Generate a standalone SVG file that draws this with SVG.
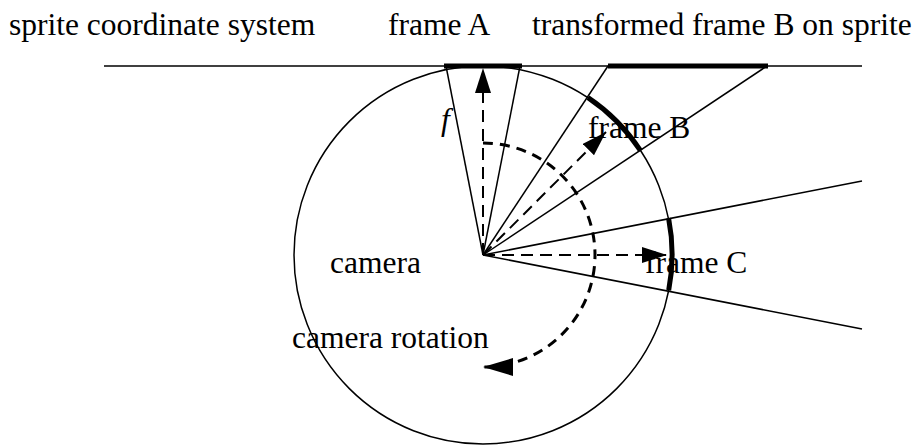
<svg xmlns="http://www.w3.org/2000/svg" width="921" height="446" viewBox="0 0 921 446">
<style>
  .thin { fill: none; stroke: #000; stroke-width: 1.5; }
  .thick { fill: none; stroke: #000; stroke-width: 5; stroke-linecap: butt; }
  .dash { fill: none; stroke: #000; stroke-width: 2; stroke-dasharray: 12 7; }
  .dasharc { fill: none; stroke: #000; stroke-width: 3; stroke-dasharray: 10 7; }
  text { fill: #000; }
  .lbl { font-family: "Liberation Serif", "Times New Roman", Times, serif; font-size: 31.5px; }
</style>
<defs>
  <marker id="arrow" markerUnits="userSpaceOnUse" markerWidth="26" markerHeight="18" refX="25" refY="8" orient="auto" viewBox="0 0 26 18">
    <path d="M0,0 L25,8 L0,16 Z" fill="#000"/>
  </marker>
  <marker id="arrowBig" markerUnits="userSpaceOnUse" markerWidth="32" markerHeight="20" refX="30" refY="9" orient="auto" viewBox="0 0 32 20">
    <path d="M0,0 L30,9 L0,18 Z" fill="#000"/>
  </marker>
</defs>

<g id="sprite-plane">
  <line class="thin" x1="104" y1="66" x2="862" y2="66"/>
  <text class="lbl" x="9" y="35">sprite coordinate system</text>
</g>

<g id="camera">
  <circle class="thin" cx="483" cy="255" r="189"/>
  <text class="lbl" x="330" y="273">camera</text>
</g>

<g id="frame-A">
  <line class="thin" x1="483" y1="255" x2="446" y2="66"/>
  <line class="thin" x1="483" y1="255" x2="520" y2="66"/>
  <line class="thick" x1="444" y1="66" x2="522" y2="66"/>
  <text class="lbl" x="388" y="35">frame A</text>
  <text class="lbl" font-size="32" font-style="italic" x="441" y="130">f</text>
</g>

<g id="frame-B">
  <line class="thin" x1="483" y1="255" x2="608" y2="66"/>
  <line class="thin" x1="483" y1="255" x2="767" y2="66"/>
  <path class="thick" d="M588,97.6 A189,189 0 0 1 640.5,150.6"/>
  <text class="lbl" x="588" y="138">frame B</text>
</g>

<g id="transformed-frame-B">
  <line class="thick" x1="608" y1="66" x2="768" y2="66"/>
  <text class="lbl" x="532" y="35">transformed frame B on sprite</text>
</g>

<g id="frame-C">
  <line class="thin" x1="483" y1="255" x2="862" y2="181"/>
  <line class="thin" x1="483" y1="255" x2="862" y2="329"/>
  <path class="thick" d="M668.6,218.3 A189,189 0 0 1 668.7,290.3" stroke-width="6"/>
  <text class="lbl" x="645" y="273">frame C</text>
</g>

<g id="rotation-label">
  <text class="lbl" x="292" y="348">camera rotation</text>
</g>

<g id="connectors">
  <line class="dash" x1="483" y1="255" x2="483" y2="68" marker-end="url(#arrow)"/>
  <line class="dash" x1="483" y1="255" x2="606" y2="132" marker-end="url(#arrow)"/>
  <line class="dash" x1="483" y1="255" x2="667" y2="255" marker-end="url(#arrow)"/>
  <path class="dasharc" d="M483,143 A112,112 0 0 1 483,367" marker-end="url(#arrowBig)"/>
</g>
</svg>
